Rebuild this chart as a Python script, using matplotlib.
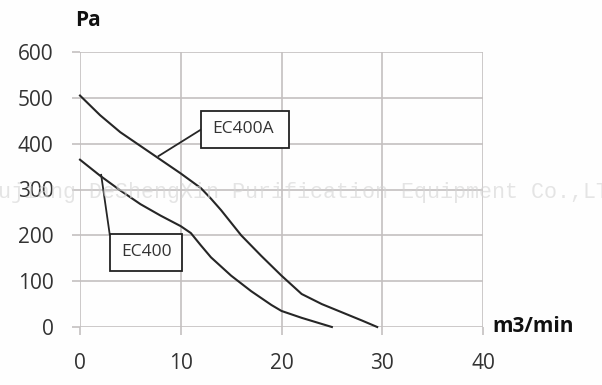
import matplotlib
matplotlib.use("Agg")
import matplotlib.pyplot as plt
from matplotlib.patches import Rectangle

# Data
flow_a = [0, 2, 4, 6, 8, 10, 12, 13, 14, 16, 18, 20, 22, 24, 26, 28, 29.5]
pres_a = [505, 462, 425, 395, 365, 335, 303, 280, 255, 200, 155, 112, 72, 50, 32, 14, 0]
flow_b = [0, 2, 4, 6, 8, 10, 11, 12, 13, 15, 17, 19, 20, 22, 25]
pres_b = [365, 330, 298, 268, 243, 220, 205, 178, 152, 112, 78, 48, 35, 20, 0]
label_a = "EC400A"
label_b = "EC400"
x_ticks = [0, 10, 20, 30, 40]
y_ticks = [0, 100, 200, 300, 400, 500, 600]

plt.rcParams['font.family'] = ['Open Sans', 'DejaVu Sans']

fig = plt.figure(figsize=(6.02, 3.85), dpi=100)
fig.patch.set_facecolor('#fefefe')
ax = fig.add_axes([80/602, 1-327/385, 403/602, 275/385])
ax.set_facecolor('none')

grid_c = '#c4c0c0'
ax.set_xlim(0, 40)
ax.set_ylim(0, 600)
ax.set_xticks(x_ticks)
ax.set_yticks(y_ticks)
ax.grid(True, color=grid_c, linewidth=1.2, zorder=0)
for s in ax.spines.values():
    s.set_visible(False)
ax.tick_params(axis='both', length=6, width=1.2, color=grid_c,
               labelsize=15, labelcolor='#333333', pad=13)
ax.set_axisbelow(True)

ax.plot(flow_a, pres_a, color='#262626', linewidth=1.5, zorder=3, clip_on=False)
ax.plot(flow_b, pres_b, color='#262626', linewidth=1.5, zorder=3, clip_on=False)

# Callout boxes
ax.add_patch(Rectangle((12.0, 391), 8.7, 81, fill=True, facecolor='#fefefe',
                       edgecolor='#222222', linewidth=1.3, zorder=4))
ax.text(16.2, 431, label_a, ha='center', va='center', fontsize=12.5,
        color='#333333', zorder=5)
ax.plot([7.8, 12.1], [373, 432], color='#262626', linewidth=1.3, zorder=3)

ax.add_patch(Rectangle((2.95, 122), 7.15, 81, fill=True, facecolor='#fefefe',
                       edgecolor='#222222', linewidth=1.3, zorder=4))
ax.text(6.6, 164, label_b, ha='center', va='center', fontsize=12.5,
        color='#333333', zorder=5)
ax.plot([2.1, 2.95], [332, 202], color='#262626', linewidth=1.3, zorder=3)

fig.text(88/602, 1-20/385, "Pa", ha='center', va='center', fontsize=15,
         fontweight='bold', color='#111111')
fig.text(533/602, 1-326/385, "m3/min", ha='center', va='center', fontsize=15,
         fontweight='bold', color='#111111')

# Watermark
fig.text(-15/602, 1-193/385, "Wujiang DeShengXin Purification Equipment Co.,LTD",
         ha='left', va='center', fontsize=15.6, family=['Liberation Mono', 'DejaVu Sans Mono'],
         color='#d4d4d4', alpha=0.6, zorder=10)

fig.savefig("out.png", dpi=100, facecolor=fig.get_facecolor())
